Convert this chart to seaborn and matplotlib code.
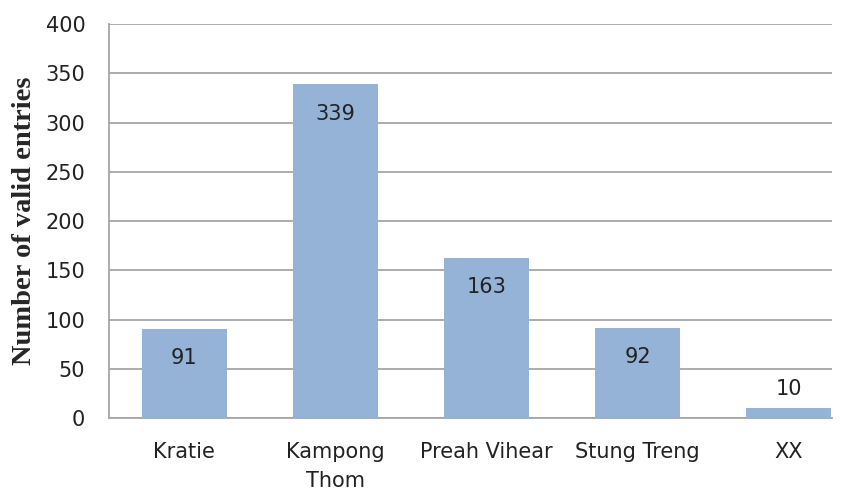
import pandas as pd
import matplotlib.pyplot as plt
import seaborn as sns

provinces = ['Kratie', 'Kampong\nThom', 'Preah Vihear', 'Stung Treng', 'XX']
entries = [91, 339, 163, 92, 10]

df = pd.DataFrame({'Province': provinces, 'Entries': entries})

sns.set_style('white')
plt.rcParams['font.family'] = ['DejaVu Sans']

fig = plt.figure(figsize=(8.51, 4.92), dpi=100)
ax = fig.add_axes([0.128, 0.150, 0.850, 0.801])

sns.barplot(data=df, x='Province', y='Entries', color='#95b3d7',
            saturation=1, width=0.565, linewidth=0, ax=ax, zorder=3)

# value labels, inside the bar top unless the bar is too short
for i, v in enumerate(entries):
    y = v - 30 if v > 40 else v + 20
    ax.text(i, y, str(v), ha='center', va='center', fontsize=15, color='#222222')

ax.set_ylim(0, 400)
ax.set_yticks(range(0, 401, 50))
ax.yaxis.grid(True, color='#a6a6a6', linewidth=1.3, zorder=0)
ax.set_axisbelow(True)
# the original chart is cut off on the right, just past the last bar
ax.set_xlim(-0.5, 4.29)

for s in ['top', 'right']:
    ax.spines[s].set_visible(False)
for s in ['left', 'bottom']:
    ax.spines[s].set_color('#a6a6a6')
    ax.spines[s].set_linewidth(1.3)

ax.tick_params(axis='both', length=0, labelsize=15, colors='#222222')
ax.tick_params(axis='x', pad=17)
ax.tick_params(axis='y', pad=17)
for lbl in ax.get_xticklabels():
    lbl.set_linespacing(1.55)
ax.set_xlabel('')
ax.set_ylabel('Number of valid entries', fontsize=20.5, fontweight='bold',
              family='Liberation Serif', labelpad=6)

fig.savefig('out.png', dpi=100)
